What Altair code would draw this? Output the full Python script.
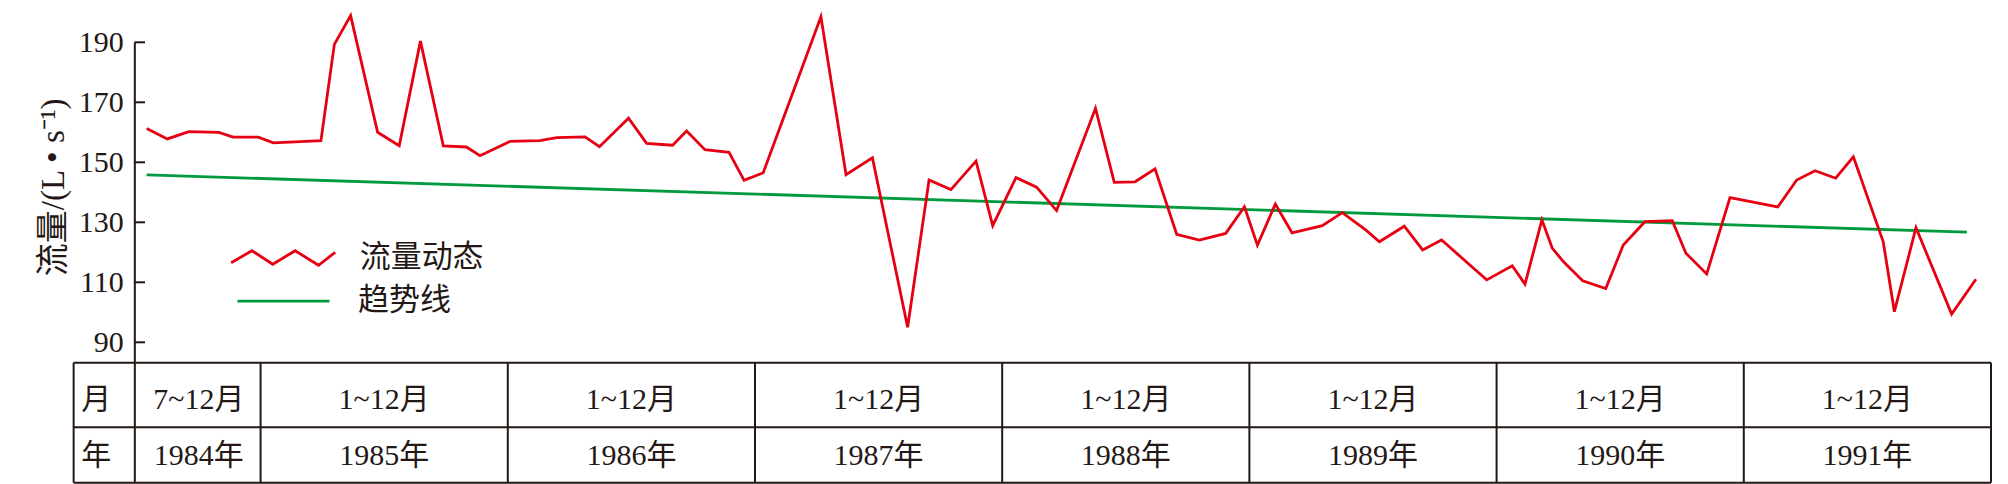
import altair as alt
import pandas as pd

# ---- data ----
# red series: vertex positions in months since the start of Jul 1984, and flow (L/s)
month_pos = [0.47, 1.47, 2.52, 3.97, 4.67, 5.89, 6.62, 8.93, 9.58, 10.37, 11.68, 12.73, 13.76, 14.87,
             15.99, 16.65, 18.11, 19.56, 20.37, 21.75, 22.45, 23.86, 24.74, 26.0, 26.68, 27.57, 28.74, 29.47, 30.4,
             33.2, 34.42, 35.7, 37.41, 38.45, 39.51, 40.73, 41.54, 42.67, 43.67, 44.64, 46.53,
             47.44, 48.45, 49.42, 50.47, 51.57, 52.85, 53.76, 54.39, 55.26, 56.07, 57.54, 58.51, 59.66, 60.31, 61.52,
             62.41, 63.33, 65.52, 66.76, 67.38, 68.2, 68.7, 69.24, 70.18, 71.3, 72.15, 73.2, 74.53, 75.19, 76.2, 77.33,
             79.65, 80.57, 81.46, 82.46, 83.32, 84.77, 85.31, 86.36, 88.09, 89.27]
flow = [161.3, 157.8, 160.2, 160.0, 158.4, 158.4, 156.5, 157.2, 189.3, 198.9, 160.0, 155.5, 190.4, 155.5,
        155.1, 152.2, 157.0, 157.2, 158.2, 158.5, 155.2, 164.7, 156.3, 155.7, 160.4, 154.2, 153.3, 144.0, 146.5,
        198.5, 145.9, 151.5, 95.0, 144.1, 140.9, 150.4, 128.9, 144.9, 141.7, 133.9, 168.0,
        143.3, 143.5, 147.8, 126.0, 124.1, 126.3, 135.2, 122.4, 136.1, 126.5, 128.9, 133.2, 127.4, 123.5, 128.7,
        120.8, 124.1, 110.8, 115.5, 109.4, 130.8, 121.4, 116.9, 110.5, 107.9, 122.4, 130.2, 130.5, 119.7, 112.8, 138.2,
        135.1, 144.1, 147.2, 144.7, 151.8, 123.5, 100.2, 128.2, 99.4, 111.0]
trend_pos = [0.47, 88.83]
trend_val = [145.8, 126.7]
y_ticks = [90, 110, 130, 150, 170, 190]
series_names = ["流量动态", "趋势线"]
years = ["1984年", "1985年", "1986年", "1987年", "1988年", "1989年", "1990年", "1991年"]
month_spans = ["7~12月", "1~12月", "1~12月", "1~12月", "1~12月", "1~12月", "1~12月", "1~12月"]
months_in_year = [6, 12, 12, 12, 12, 12, 12, 12]
row_heads = ["月", "年"]
y_title = "流量/(L • s⁻¹)"

# ---- derived table geometry (in month units) ----
edges = []
acc = 0
for n in months_in_year:
    acc += n
    edges.append(acc)
starts = [0] + edges[:-1]
centers = [(s + e) / 2 for s, e in zip(starts, edges)]

# ---- styles / layout ----
RED = "#e60012"
GREEN = "#009a3e"
INK = "#231815"
SERIF = "Liberation Serif, Noto Sans CJK SC"
CJK = "Noto Sans CJK SC"
W, H = 1856.7, 440.4
TABLE_TOP, TABLE_MID = 320.4, 385.0
LEFT = -60.7
MON_Y, YR_Y = 357.7, 414.0
HEAD_X = -38.0
LW = 2

xs = alt.Scale(domain=[-0.13, 90], nice=False, zero=False)
ys = alt.Scale(domain=[43.2, 190], nice=False, zero=False)
yaxis = alt.Axis(values=y_ticks, title=None, ticks=False, tickSize=0, grid=False,
                 domainColor=INK, domainWidth=LW, labelFont=SERIF, labelFontSize=30,
                 labelColor=INK, labelPadding=11)

blank = pd.DataFrame({"k": [0]})


def hline(y):
    return alt.Chart(blank).mark_rule(color=INK, strokeWidth=LW).encode(
        x=alt.value(LEFT), x2=alt.value(W), y=alt.value(y))


h_lines = [hline(TABLE_TOP), hline(TABLE_MID), hline(H)]

v_lines = alt.Chart(pd.DataFrame({"edge": edges})).mark_rule(color=INK, strokeWidth=LW).encode(
    x=alt.X("edge:Q", scale=xs, axis=None), y=alt.value(TABLE_TOP), y2=alt.value(H))
left_border = alt.Chart(blank).mark_rule(color=INK, strokeWidth=LW).encode(
    x=alt.value(LEFT), y=alt.value(TABLE_TOP), y2=alt.value(H))

ticks = alt.Chart(pd.DataFrame({"v": y_ticks})).mark_rule(color=INK, strokeWidth=LW).encode(
    y=alt.Y("v:Q", scale=ys, axis=yaxis), x=alt.value(0), x2=alt.value(10.7))

ZIGZAG = "M-1,0.09L-0.6,-0.14L-0.2,0.12L0.23,-0.14L0.68,0.14L1,-0.11"

df_trend = pd.DataFrame({"m": trend_pos, "q": trend_val, "s": series_names[1]})
trend = alt.Chart(df_trend).mark_line(strokeWidth=2.8).encode(
    x=alt.X("m:Q", scale=xs, axis=None),
    y=alt.Y("q:Q", scale=ys, axis=yaxis),
    stroke=alt.Stroke("s:N", scale=alt.Scale(domain=[series_names[1]], range=[GREEN]),
                      legend=alt.Legend(orient="none", legendX=101.65, legendY=211.35, title=None,
                                        symbolType="stroke", symbolSize=8464, symbolStrokeWidth=2.8,
                                        labelFont=CJK, labelFontSize=31, labelColor=INK,
                                        labelOffset=27, padding=0)))

df_flow = pd.DataFrame({"m": month_pos, "q": flow, "s": series_names[0]})
red = alt.Chart(df_flow).mark_line(strokeWidth=2.8).encode(
    x=alt.X("m:Q", scale=xs, axis=None),
    y=alt.Y("q:Q", scale=ys, axis=yaxis),
    color=alt.Color("s:N", scale=alt.Scale(domain=[series_names[0]], range=[RED]),
                    legend=alt.Legend(orient="none", legendX=95.35, legendY=162.2, title=None,
                                      symbolType=ZIGZAG, symbolSize=10816, symbolStrokeWidth=2.8,
                                      symbolFillColor="transparent",
                                      labelFont=CJK, labelFontSize=31, labelColor=INK,
                                      labelOffset=23, padding=0)))

df_cols = pd.DataFrame({"c": centers, "mon": month_spans, "yr": years})
mon_text = alt.Chart(df_cols).mark_text(font=SERIF, fontSize=30, color=INK, baseline="middle").encode(
    x=alt.X("c:Q", scale=xs, axis=None), y=alt.value(MON_Y), text="mon:N")
yr_text = alt.Chart(df_cols).mark_text(font=SERIF, fontSize=30, color=INK, baseline="middle").encode(
    x=alt.X("c:Q", scale=xs, axis=None), y=alt.value(YR_Y), text="yr:N")

head_mon = alt.Chart(pd.DataFrame({"h": [row_heads[0]]})).mark_text(
    font=SERIF, fontSize=30, color=INK, baseline="middle").encode(
    x=alt.value(HEAD_X), y=alt.value(MON_Y), text="h:N")
head_yr = alt.Chart(pd.DataFrame({"h": [row_heads[1]]})).mark_text(
    font=SERIF, fontSize=30, color=INK, baseline="middle").encode(
    x=alt.value(HEAD_X), y=alt.value(YR_Y), text="h:N")

title_txt = alt.Chart(pd.DataFrame({"t": [y_title]})).mark_text(
    font=SERIF, fontSize=33, color=INK, angle=270, baseline="middle", align="center").encode(
    x=alt.value(-80), y=alt.value(145), text="t:N")

chart = alt.layer(
    *h_lines, v_lines, left_border, ticks, trend, red,
    mon_text, yr_text, head_mon, head_yr, title_txt
).properties(
    width=W, height=H,
    autosize=alt.AutoSizeParams(type="none"),
    padding={"left": 126.3, "top": 34.3, "right": 3, "bottom": 3},
    background="white",
).configure_view(stroke=None)

chart.save("out.html", embed_options={"renderer": "svg", "actions": False})
